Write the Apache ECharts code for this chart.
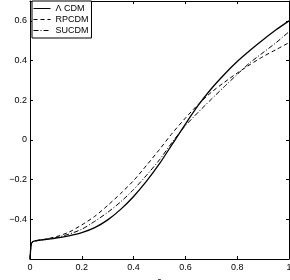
<!DOCTYPE html>
<html><head><meta charset="utf-8">
<script src="https://cdn.jsdelivr.net/npm/echarts@6/dist/echarts.min.js"></script>
<style>html,body{margin:0;padding:0;background:#fff}#c{width:290px;height:280px}</style>
</head><body><div id="c"></div>
<script>
const aValues = [0, 0.002, 0.004, 0.007, 0.012, 0.02, 0.05, 0.1, 0.15, 0.2, 0.25, 0.3, 0.35, 0.4, 0.45, 0.5, 0.55, 0.6, 0.65, 0.7, 0.75, 0.8, 0.85, 0.9, 0.95, 1.0];
const lcdm   = [-0.6, -0.56, -0.53, -0.518, -0.512, -0.509, -0.503, -0.495, -0.483, -0.467, -0.442, -0.403, -0.35, -0.285, -0.208, -0.12, -0.02, 0.08, 0.175, 0.258, 0.33, 0.395, 0.452, 0.505, 0.555, 0.60];
const rpcdm  = [-0.6, -0.56, -0.53, -0.518, -0.512, -0.509, -0.502, -0.488, -0.465, -0.428, -0.385, -0.33, -0.27, -0.205, -0.128, -0.048, 0.035, 0.11, 0.18, 0.24, 0.29, 0.337, 0.38, 0.42, 0.455, 0.49];
const sucdm  = [-0.6, -0.56, -0.53, -0.518, -0.512, -0.509, -0.503, -0.492, -0.475, -0.45, -0.41, -0.365, -0.312, -0.25, -0.178, -0.10, -0.01, 0.072, 0.14, 0.205, 0.268, 0.33, 0.39, 0.44, 0.49, 0.545];
const seriesNames = ['\u039b CDM', 'RPCDM', 'SUCDM'];
const xTickLabels = ['0', '0.2', '0.4', '0.6', '0.8', '1'];
const yTickLabels = ['-0.4', '-0.2', '0', '0.2', '0.4', '0.6'];

const pair = arr => aValues.map((a, i) => [a, arr[i]]);
const font = 'Liberation Sans, Arial, Helvetica, sans-serif';
const chart = echarts.init(document.getElementById('c'), null, {renderer: 'canvas'});
const fmtX = v => { const s = String(Math.round(v * 10) / 10); return xTickLabels.includes(s) ? s : ''; };
const fmtY = v => { const s = String(Math.round(v * 10) / 10); return yTickLabels.includes(s) ? s.replace('-', '\u2212') : ''; };
const lineStyles = [
  {color: '#000', width: 1.3, type: 'solid'},
  {color: '#000', width: 1, type: [4, 3]},
  {color: '#000', width: 1, type: [5, 2, 1, 2]}
];
const datasets = [lcdm, rpcdm, sucdm];
chart.setOption({
  animation: false,
  backgroundColor: '#fff',
  grid: {left: 30, right: 1, top: 1, bottom: 21, containLabel: false, outerBoundsMode: 'none'},
  legend: {
    left: 32, top: 1, orient: 'vertical',
    borderColor: '#000', borderWidth: 1, backgroundColor: '#fff',
    padding: [3, 3, 3, 1], itemGap: 2, itemWidth: 17, itemHeight: 10,
    itemStyle: {opacity: 0},
    lineStyle: {width: 1},
    textStyle: {fontFamily: font, fontSize: 9, color: '#000'},
    data: seriesNames
  },
  xAxis: [
    {type: 'value', min: 0, max: 1, interval: 0.2, position: 'bottom',
     name: 'a', nameLocation: 'middle', nameGap: 11,
     nameTextStyle: {fontFamily: font, fontSize: 9, color: '#000'},
     axisLine: {onZero: false, lineStyle: {color: '#000', width: 1}},
     axisTick: {inside: true, length: 3, lineStyle: {color: '#000'}},
     axisLabel: {fontFamily: font, fontSize: 9, color: '#000', margin: 4, formatter: fmtX, showMinLabel: true, showMaxLabel: true},
     splitLine: {show: false}},
    {type: 'value', min: 0, max: 1, interval: 0.2, position: 'top',
     axisLine: {onZero: false, lineStyle: {color: '#000', width: 1}},
     axisTick: {inside: true, length: 3, lineStyle: {color: '#000'}},
     axisLabel: {show: false}, splitLine: {show: false}}
  ],
  yAxis: [
    {type: 'value', min: -0.6, max: 0.7, interval: 0.2, position: 'left',
     name: 'q(a)', nameLocation: 'middle', nameGap: 25, nameRotate: 90,
     nameTextStyle: {fontFamily: font, fontSize: 9, color: '#000'},
     axisLine: {onZero: false, lineStyle: {color: '#000', width: 1}},
     axisTick: {inside: true, length: 3, lineStyle: {color: '#000'}},
     axisLabel: {fontFamily: font, fontSize: 9, color: '#000', margin: 3, formatter: fmtY},
     splitLine: {show: false}},
    {type: 'value', min: -0.6, max: 0.7, interval: 0.2, position: 'right',
     axisLine: {onZero: false, lineStyle: {color: '#000', width: 1}},
     axisTick: {inside: true, length: 3, lineStyle: {color: '#000'}},
     axisLabel: {show: false}, splitLine: {show: false}}
  ],
  series: seriesNames.map((n, i) => ({
    name: n, type: 'line', xAxisIndex: 0, yAxisIndex: 0,
    data: pair(datasets[i]), showSymbol: false, symbol: 'none',
    smooth: 0.25,
    lineStyle: lineStyles[i], itemStyle: {color: '#000'}
  }))
});
</script></body></html>
